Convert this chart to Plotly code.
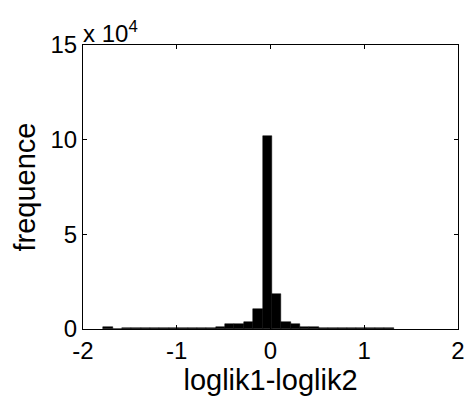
import plotly.graph_objects as go

# Histogram bin centres (bin width 0.1) and counts
bin_centers = [-1.735, -1.635, -1.535, -1.435, -1.335, -1.235, -1.135, -1.035,
               -0.935, -0.835, -0.735, -0.635, -0.535, -0.435, -0.335, -0.235,
               -0.135, -0.035, 0.065, 0.165, 0.265, 0.365, 0.465, 0.565,
               0.665, 0.765, 0.865, 0.965, 1.065, 1.165, 1.265]
counts = [1100, 250, 300, 350, 550, 600, 600, 600,
          650, 650, 700, 750, 900, 2600, 2900, 3700,
          10700, 102000, 18400, 3600, 2500, 900, 800, 750,
          700, 700, 650, 650, 650, 600, 600]
bin_width = 0.1

x_ticks = [-2, -1, 0, 1, 2]
x_tick_labels = ["-2", "-1", "0", "1", "2"]
y_ticks = [0, 50000, 100000, 150000]
y_tick_labels = ["0", "5", "10", "15"]

FONT = "Liberation Sans, Arial, sans-serif"

fig = go.Figure(go.Bar(
    x=bin_centers, y=counts, width=bin_width,
    marker=dict(color="black", line=dict(color="black", width=0.5)),
))

fig.update_layout(
    width=468, height=403,
    margin=dict(l=83, r=10, t=45, b=74),
    paper_bgcolor="white", plot_bgcolor="white",
    showlegend=False, bargap=0,
    font=dict(family=FONT, size=25, color="black"),
)
fig.update_xaxes(
    range=[-2, 2], tickvals=x_ticks, ticktext=x_tick_labels,
    ticks="inside", ticklen=4, tickcolor="black",
    showline=True, linecolor="black", linewidth=1, mirror="ticks",
    showgrid=False, zeroline=False, automargin=False,
    tickfont=dict(size=24),
    title=dict(text="loglik1-loglik2", font=dict(size=29), standoff=2),
)
fig.update_yaxes(
    range=[0, 150000], tickvals=y_ticks, ticktext=y_tick_labels,
    ticks="inside", ticklen=4, tickcolor="black",
    showline=True, linecolor="black", linewidth=1, mirror="ticks",
    showgrid=False, zeroline=False, automargin=False,
    tickfont=dict(size=24),
    title=dict(text="frequence", font=dict(size=29), standoff=6),
)
fig.add_annotation(
    xref="paper", yref="paper", x=0, y=1, xanchor="left", yanchor="bottom",
    text="x 10<sup>4</sup>", showarrow=False, font=dict(size=24), yshift=-4, xshift=-2,
)

fig.write_html(
    "out.html",
    config={"displayModeBar": False},
    post_script="document.body.style.margin='0';document.body.style.overflow='hidden';",
)
